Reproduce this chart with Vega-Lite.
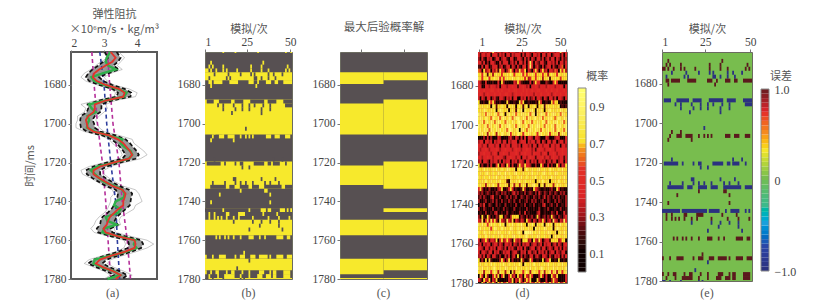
{"$schema":"https://vega.github.io/schema/vega-lite/v6.json","autosize":{"type":"none"},"padding":{"left":71,"top":52,"right":745,"bottom":251},"background":"white",
"resolve":{"scale":{"color":"independent"}},
"config":{"view":{"stroke":"#6b6b60","strokeWidth":1},"axis":{"grid":false,"domain":false,"labelFont":"Liberation Serif","labelFontSize":11.5,"labelColor":"#444","tickColor":"#777","tickSize":3,"titleFont":"Noto Sans CJK SC","titleFontSize":11,"titleFontWeight":"normal","titleColor":"#555"},"text":{"font":"Liberation Serif","fontSize":12,"color":"#555"}},
"datasets":{
"gap":[{"t":0}],
"capA":[{"x":3.26,"t":1787,"s":"(a)"}],"capB":[{"a":26,"t":1787,"s":"(b)"}],"capC":[{"a":26,"t":1787,"s":"(c)"}],"capD":[{"c":25.5,"t":1785,"s":"(d)"}],"capE":[{"a":26,"t":1786,"s":"(e)"}],
"barD":[{"v":0,"w":0.25},{"v":0.25,"w":0.5},{"v":0.5,"w":0.75},{"v":0.75,"w":1},{"v":1,"w":1.25},{"v":1.25,"w":1.5},{"v":1.5,"w":1.75},{"v":1.75,"w":2},{"v":2,"w":2.25},{"v":2.25,"w":2.5},{"v":2.5,"w":2.75},{"v":2.75,"w":3},{"v":3,"w":3.25},{"v":3.25,"w":3.5},{"v":3.5,"w":3.75},{"v":3.75,"w":4},{"v":4,"w":4.25},{"v":4.25,"w":4.5},{"v":4.5,"w":4.75},{"v":4.75,"w":5},{"v":5,"w":5.25},{"v":5.25,"w":5.5},{"v":5.5,"w":5.75},{"v":5.75,"w":6},{"v":6,"w":6.25},{"v":6.25,"w":6.5},{"v":6.5,"w":6.75},{"v":6.75,"w":7},{"v":7,"w":7.25},{"v":7.25,"w":7.5},{"v":7.5,"w":7.75},{"v":7.75,"w":8},{"v":8,"w":8.25},{"v":8.25,"w":8.5},{"v":8.5,"w":8.75},{"v":8.75,"w":9},{"v":9,"w":9.25},{"v":9.25,"w":9.5},{"v":9.5,"w":9.75},{"v":9.75,"w":10}],
"barE":[{"v":-1,"w":-0.95},{"v":-0.95,"w":-0.9},{"v":-0.9,"w":-0.85},{"v":-0.85,"w":-0.8},{"v":-0.8,"w":-0.75},{"v":-0.75,"w":-0.7},{"v":-0.7,"w":-0.65},{"v":-0.65,"w":-0.6},{"v":-0.6,"w":-0.55},{"v":-0.55,"w":-0.5},{"v":-0.5,"w":-0.45},{"v":-0.45,"w":-0.4},{"v":-0.4,"w":-0.35},{"v":-0.35,"w":-0.3},{"v":-0.3,"w":-0.25},{"v":-0.25,"w":-0.2},{"v":-0.2,"w":-0.15},{"v":-0.15,"w":-0.1},{"v":-0.1,"w":-0.05},{"v":-0.05,"w":0},{"v":0,"w":0.05},{"v":0.05,"w":0.1},{"v":0.1,"w":0.15},{"v":0.15,"w":0.2},{"v":0.2,"w":0.25},{"v":0.25,"w":0.3},{"v":0.3,"w":0.35},{"v":0.35,"w":0.4},{"v":0.4,"w":0.45},{"v":0.45,"w":0.5},{"v":0.5,"w":0.55},{"v":0.55,"w":0.6},{"v":0.6,"w":0.65},{"v":0.65,"w":0.7},{"v":0.7,"w":0.75},{"v":0.75,"w":0.8},{"v":0.8,"w":0.85},{"v":0.85,"w":0.9},{"v":0.9,"w":0.95},{"v":0.95,"w":1}],
"frameD":[{"v":0,"w":10}],"frameE":[{"v":-1,"w":1}],
"titleD":[{"x":2.4,"v":10.6,"s":"概率"}],"titleE":[{"x":2.5,"v":1.132,"s":"误差"}],
"bands":[{"a":1,"b":26,"t0":1673.5,"t1":1679.5},{"a":1,"b":26,"t0":1689.5,"t1":1705.5},{"a":1,"b":26,"t0":1721.5,"t1":1731.5},{"a":1,"b":26,"t0":1749.5,"t1":1757.5},{"a":1,"b":26,"t0":1769.5,"t1":1777.5},{"a":1,"b":26,"t0":1779.5,"t1":1780},{"a":26,"b":51,"t0":1673.5,"t1":1677.5},{"a":26,"b":51,"t0":1687.5,"t1":1705.5},{"a":26,"b":51,"t0":1719.5,"t1":1733.5},{"a":26,"b":51,"t0":1743.5,"t1":1745.5},{"a":26,"b":51,"t0":1749.5,"t1":1757.5},{"a":26,"b":51,"t0":1769.5,"t1":1775.5},{"a":26,"b":51,"t0":1779.5,"t1":1780}],
"err":[
{"t":1662.5,"a":11,"b":12,"e":1},{"t":1662.5,"a":18,"b":19,"e":1},{"t":1662.5,"a":31,"b":32,"e":1},{"t":1662.5,"a":47,"b":48,"e":1},{"t":1662.5,"a":50,"b":51,"e":1},
{"t":1668.5,"a":4,"b":5,"e":1},{"t":1668.5,"a":34,"b":35,"e":1},
{"t":1670.5,"a":3,"b":4,"e":1},{"t":1670.5,"a":5,"b":6,"e":1},{"t":1670.5,"a":11,"b":12,"e":1},{"t":1670.5,"a":27,"b":28,"e":1},{"t":1670.5,"a":33,"b":34,"e":1},{"t":1670.5,"a":48,"b":49,"e":1},
{"t":1672.5,"a":1,"b":3,"e":1},{"t":1672.5,"a":4,"b":5,"e":1},{"t":1672.5,"a":7,"b":8,"e":1},{"t":1672.5,"a":11,"b":12,"e":1},{"t":1672.5,"a":13,"b":14,"e":1},{"t":1672.5,"a":19,"b":20,"e":1},{"t":1672.5,"a":27,"b":28,"e":1},{"t":1672.5,"a":33,"b":34,"e":1},{"t":1672.5,"a":37,"b":38,"e":1},{"t":1672.5,"a":47,"b":48,"e":1},{"t":1672.5,"a":49,"b":50,"e":1},
{"t":1674.5,"a":6,"b":7,"e":-1},{"t":1674.5,"a":14,"b":15,"e":-1},{"t":1674.5,"a":21,"b":22,"e":-1},{"t":1674.5,"a":27,"b":28,"e":-1},{"t":1674.5,"a":29,"b":30,"e":-1},{"t":1674.5,"a":37,"b":38,"e":-1},{"t":1674.5,"a":40,"b":41,"e":-1},{"t":1674.5,"a":45,"b":46,"e":-1},
{"t":1676.5,"a":3,"b":4,"e":-1},{"t":1676.5,"a":13,"b":14,"e":-1},{"t":1676.5,"a":15,"b":16,"e":-1},{"t":1676.5,"a":29,"b":31,"e":-1},{"t":1676.5,"a":33,"b":34,"e":-1},{"t":1676.5,"a":37,"b":38,"e":-1},{"t":1676.5,"a":41,"b":42,"e":-1},
{"t":1678.5,"a":3,"b":5,"e":1},{"t":1678.5,"a":6,"b":11,"e":1},{"t":1678.5,"a":15,"b":20,"e":1},{"t":1678.5,"a":26,"b":29,"e":1},{"t":1678.5,"a":31,"b":32,"e":1},{"t":1678.5,"a":36,"b":39,"e":1},{"t":1678.5,"a":41,"b":43,"e":1},{"t":1678.5,"a":46,"b":51,"e":1},
{"t":1680.5,"a":4,"b":5,"e":1},{"t":1680.5,"a":30,"b":31,"e":1},
{"t":1688.5,"a":2,"b":6,"e":-1},{"t":1688.5,"a":9,"b":16,"e":-1},{"t":1688.5,"a":18,"b":23,"e":-1},{"t":1688.5,"a":27,"b":35,"e":-1},{"t":1688.5,"a":37,"b":42,"e":-1},{"t":1688.5,"a":46,"b":51,"e":-1},
{"t":1690.5,"a":8,"b":9,"e":-1},{"t":1690.5,"a":11,"b":12,"e":-1},{"t":1690.5,"a":17,"b":18,"e":-1},{"t":1690.5,"a":22,"b":23,"e":-1},{"t":1690.5,"a":26,"b":27,"e":-1},{"t":1690.5,"a":29,"b":30,"e":-1},{"t":1690.5,"a":34,"b":35,"e":-1},{"t":1690.5,"a":38,"b":39,"e":-1},{"t":1690.5,"a":47,"b":51,"e":-1},
{"t":1692.5,"a":11,"b":12,"e":-1},{"t":1692.5,"a":18,"b":19,"e":-1},{"t":1692.5,"a":22,"b":23,"e":-1},{"t":1692.5,"a":26,"b":27,"e":-1},{"t":1692.5,"a":33,"b":34,"e":-1},{"t":1692.5,"a":38,"b":39,"e":-1},
{"t":1694.5,"a":16,"b":17,"e":-1},{"t":1694.5,"a":33,"b":34,"e":-1},{"t":1702.5,"a":24,"b":25,"e":-1},
{"t":1704.5,"a":6,"b":7,"e":1},{"t":1704.5,"a":11,"b":12,"e":1},
{"t":1706.5,"a":5,"b":6,"e":1},{"t":1706.5,"a":9,"b":12,"e":1},{"t":1706.5,"a":14,"b":18,"e":1},{"t":1706.5,"a":21,"b":22,"e":1},{"t":1706.5,"a":24,"b":25,"e":1},{"t":1706.5,"a":26,"b":27,"e":1},{"t":1706.5,"a":28,"b":29,"e":1},{"t":1706.5,"a":36,"b":39,"e":1},{"t":1706.5,"a":41,"b":44,"e":1},{"t":1706.5,"a":47,"b":50,"e":1},
{"t":1708.5,"a":4,"b":5,"e":1},{"t":1708.5,"a":17,"b":18,"e":1},
{"t":1718.5,"a":6,"b":7,"e":-1},{"t":1718.5,"a":40,"b":41,"e":-1},{"t":1718.5,"a":45,"b":46,"e":-1},
{"t":1720.5,"a":2,"b":10,"e":-1},{"t":1720.5,"a":12,"b":13,"e":-1},{"t":1720.5,"a":18,"b":19,"e":-1},{"t":1720.5,"a":21,"b":23,"e":-1},{"t":1720.5,"a":29,"b":35,"e":-1},{"t":1720.5,"a":37,"b":39,"e":-1},{"t":1720.5,"a":40,"b":44,"e":-1},{"t":1720.5,"a":47,"b":48,"e":-1},
{"t":1722.5,"a":22,"b":23,"e":-1},{"t":1722.5,"a":26,"b":27,"e":-1},
{"t":1728.5,"a":17,"b":19,"e":-1},{"t":1728.5,"a":33,"b":34,"e":-1},{"t":1728.5,"a":41,"b":42,"e":-1},
{"t":1730.5,"a":5,"b":6,"e":-1},{"t":1730.5,"a":12,"b":13,"e":-1},{"t":1730.5,"a":18,"b":19,"e":-1},{"t":1730.5,"a":21,"b":22,"e":-1},{"t":1730.5,"a":24,"b":25,"e":-1},{"t":1730.5,"a":28,"b":29,"e":-1},{"t":1730.5,"a":35,"b":36,"e":-1},{"t":1730.5,"a":38,"b":39,"e":-1},{"t":1730.5,"a":43,"b":44,"e":-1},
{"t":1732.5,"a":4,"b":13,"e":-1},{"t":1732.5,"a":15,"b":18,"e":-1},{"t":1732.5,"a":21,"b":26,"e":-1},{"t":1732.5,"a":28,"b":32,"e":-1},{"t":1732.5,"a":35,"b":45,"e":-1},{"t":1732.5,"a":47,"b":51,"e":-1},
{"t":1734.5,"a":21,"b":22,"e":1},{"t":1734.5,"a":35,"b":37,"e":1},{"t":1736.5,"a":9,"b":10,"e":1},{"t":1736.5,"a":38,"b":39,"e":1},{"t":1740.5,"a":4,"b":5,"e":1},{"t":1740.5,"a":38,"b":39,"e":1},
{"t":1744.5,"a":1,"b":11,"e":-1},{"t":1744.5,"a":12,"b":26,"e":-1},{"t":1744.5,"a":27,"b":33,"e":-1},{"t":1744.5,"a":36,"b":37,"e":-1},{"t":1744.5,"a":39,"b":44,"e":-1},{"t":1744.5,"a":47,"b":48,"e":-1},{"t":1744.5,"a":49,"b":50,"e":-1},
{"t":1746.5,"a":3,"b":4,"e":1},{"t":1746.5,"a":6,"b":7,"e":1},{"t":1746.5,"a":13,"b":15,"e":1},{"t":1746.5,"a":20,"b":24,"e":1},{"t":1746.5,"a":34,"b":35,"e":1},{"t":1746.5,"a":42,"b":43,"e":1},
{"t":1748.5,"a":3,"b":4,"e":1},{"t":1748.5,"a":6,"b":7,"e":1},{"t":1748.5,"a":8,"b":9,"e":1},{"t":1748.5,"a":10,"b":11,"e":1},{"t":1748.5,"a":13,"b":14,"e":1},{"t":1748.5,"a":17,"b":18,"e":1},{"t":1748.5,"a":20,"b":21,"e":1},{"t":1748.5,"a":28,"b":29,"e":1},{"t":1748.5,"a":37,"b":38,"e":1},{"t":1748.5,"a":43,"b":44,"e":1},{"t":1748.5,"a":49,"b":50,"e":1},
{"t":1750.5,"a":17,"b":18,"e":-1},{"t":1750.5,"a":28,"b":29,"e":-1},{"t":1750.5,"a":33,"b":34,"e":-1},{"t":1750.5,"a":38,"b":39,"e":-1},{"t":1750.5,"a":43,"b":44,"e":-1},
{"t":1752.5,"a":32,"b":33,"e":-1},{"t":1752.5,"a":43,"b":44,"e":-1},{"t":1754.5,"a":26,"b":27,"e":-1},{"t":1754.5,"a":45,"b":46,"e":-1},
{"t":1758.5,"a":7,"b":8,"e":1},{"t":1758.5,"a":9,"b":10,"e":1},{"t":1758.5,"a":12,"b":13,"e":1},{"t":1758.5,"a":14,"b":15,"e":1},{"t":1758.5,"a":17,"b":18,"e":1},{"t":1758.5,"a":21,"b":22,"e":1},{"t":1758.5,"a":26,"b":29,"e":1},{"t":1758.5,"a":32,"b":33,"e":1},{"t":1758.5,"a":35,"b":36,"e":1},{"t":1758.5,"a":42,"b":46,"e":1},{"t":1758.5,"a":48,"b":50,"e":1},
{"t":1766.5,"a":23,"b":24,"e":1},
{"t":1768.5,"a":1,"b":2,"e":1},{"t":1768.5,"a":5,"b":6,"e":1},{"t":1768.5,"a":9,"b":13,"e":1},{"t":1768.5,"a":18,"b":19,"e":1},{"t":1768.5,"a":21,"b":24,"e":1},{"t":1768.5,"a":27,"b":30,"e":1},{"t":1768.5,"a":32,"b":37,"e":1},{"t":1768.5,"a":38,"b":39,"e":1},{"t":1768.5,"a":42,"b":46,"e":1},{"t":1768.5,"a":48,"b":51,"e":1},
{"t":1770.5,"a":26,"b":27,"e":-1},{"t":1774.5,"a":19,"b":20,"e":-1},
{"t":1776.5,"a":1,"b":2,"e":1},{"t":1776.5,"a":4,"b":5,"e":1},{"t":1776.5,"a":7,"b":9,"e":1},{"t":1776.5,"a":13,"b":14,"e":1},{"t":1776.5,"a":16,"b":18,"e":1},{"t":1776.5,"a":22,"b":23,"e":1},{"t":1776.5,"a":26,"b":27,"e":1},{"t":1776.5,"a":32,"b":35,"e":1},{"t":1776.5,"a":38,"b":39,"e":1},{"t":1776.5,"a":40,"b":42,"e":1},{"t":1776.5,"a":46,"b":50,"e":1},
{"t":1778.5,"a":3,"b":4,"e":1},{"t":1778.5,"a":8,"b":9,"e":1},{"t":1778.5,"a":12,"b":18,"e":1},{"t":1778.5,"a":21,"b":22,"e":1},{"t":1778.5,"a":26,"b":27,"e":1},{"t":1778.5,"a":31,"b":34,"e":1},{"t":1778.5,"a":36,"b":39,"e":1},{"t":1778.5,"a":40,"b":42,"e":1},{"t":1778.5,"a":46,"b":50,"e":1},
{"t":1780.5,"a":1,"b":3,"e":-1},{"t":1780.5,"a":5,"b":6,"e":-1},{"t":1780.5,"a":11,"b":12,"e":-1},{"t":1780.5,"a":21,"b":22,"e":-1},{"t":1780.5,"a":23,"b":24,"e":-1}
],
"well":[
{"t":1663,"r":3.2,"g":3.18,"l":3.02,"h":3.38,"s1":2.95,"s2":3.45,"s3":3.2},
{"t":1666,"r":3.35,"g":3.08,"l":3.12,"h":3.5,"s1":3.15,"s2":3.62,"s3":3.05},
{"t":1668,"r":3.25,"g":3.05,"l":2.98,"h":3.42,"s1":2.9,"s2":3.5,"s3":3.3},
{"t":1670,"r":3.05,"g":3.12,"l":2.82,"h":3.28,"s1":2.75,"s2":3.4,"s3":2.95},
{"t":1672,"r":2.85,"g":3.35,"l":2.65,"h":3.45,"s1":2.6,"s2":3.55,"s3":3.1},
{"t":1674,"r":2.7,"g":2.95,"l":2.52,"h":3.12,"s1":2.4,"s2":3.2,"s3":2.7},
{"t":1676,"r":2.66,"g":2.62,"l":2.45,"h":2.85,"s1":2.3,"s2":3.0,"s3":2.55},
{"t":1678,"r":2.78,"g":2.7,"l":2.55,"h":2.98,"s1":2.45,"s2":3.1,"s3":2.8},
{"t":1680,"r":3.05,"g":3.0,"l":2.85,"h":3.25,"s1":2.8,"s2":3.3,"s3":3.1},
{"t":1682,"r":3.45,"g":3.42,"l":3.25,"h":3.62,"s1":3.2,"s2":3.75,"s3":3.4},
{"t":1684,"r":3.62,"g":3.68,"l":3.42,"h":3.82,"s1":3.35,"s2":4.0,"s3":3.7},
{"t":1686,"r":3.58,"g":3.6,"l":3.38,"h":3.8,"s1":3.3,"s2":3.95,"s3":3.5},
{"t":1688,"r":3.05,"g":3.05,"l":2.85,"h":3.25,"s1":2.75,"s2":3.35,"s3":3.1},
{"t":1690,"r":2.72,"g":2.55,"l":2.5,"h":2.92,"s1":2.3,"s2":3.05,"s3":2.6},
{"t":1692,"r":2.72,"g":2.62,"l":2.52,"h":2.92,"s1":2.45,"s2":3.1,"s3":2.8},
{"t":1694,"r":2.68,"g":2.75,"l":2.48,"h":2.88,"s1":2.4,"s2":3.0,"s3":2.6},
{"t":1696,"r":2.52,"g":2.5,"l":2.3,"h":2.72,"s1":2.2,"s2":2.85,"s3":2.45},
{"t":1698,"r":2.45,"g":2.55,"l":2.28,"h":2.65,"s1":2.2,"s2":2.75,"s3":2.55},
{"t":1700,"r":2.48,"g":2.5,"l":2.28,"h":2.7,"s1":2.15,"s2":2.8,"s3":2.4},
{"t":1702,"r":2.5,"g":2.48,"l":2.3,"h":2.72,"s1":2.15,"s2":2.85,"s3":2.6},
{"t":1704,"r":2.68,"g":2.72,"l":2.48,"h":2.88,"s1":2.4,"s2":3.0,"s3":2.7},
{"t":1706,"r":3.15,"g":3.12,"l":2.95,"h":3.35,"s1":2.9,"s2":3.45,"s3":3.2},
{"t":1708,"r":3.42,"g":3.55,"l":3.22,"h":3.65,"s1":3.15,"s2":3.85,"s3":3.4},
{"t":1710,"r":3.58,"g":3.5,"l":3.38,"h":3.78,"s1":3.25,"s2":3.9,"s3":3.6},
{"t":1712,"r":3.68,"g":3.62,"l":3.48,"h":3.88,"s1":3.4,"s2":4.05,"s3":3.6},
{"t":1714,"r":3.78,"g":3.8,"l":3.58,"h":3.98,"s1":3.5,"s2":4.2,"s3":3.85},
{"t":1716,"r":3.85,"g":3.85,"l":3.65,"h":4.05,"s1":3.55,"s2":4.3,"s3":3.8},
{"t":1718,"r":3.75,"g":3.75,"l":3.55,"h":3.95,"s1":3.45,"s2":4.1,"s3":3.7},
{"t":1720,"r":3.28,"g":3.3,"l":3.08,"h":3.48,"s1":3.0,"s2":3.6,"s3":3.3},
{"t":1722,"r":2.88,"g":2.8,"l":2.68,"h":3.08,"s1":2.55,"s2":3.2,"s3":2.9},
{"t":1724,"r":2.68,"g":2.6,"l":2.45,"h":2.88,"s1":2.3,"s2":3.0,"s3":2.55},
{"t":1726,"r":2.68,"g":2.72,"l":2.48,"h":2.88,"s1":2.35,"s2":3.0,"s3":2.75},
{"t":1728,"r":2.85,"g":2.85,"l":2.65,"h":3.05,"s1":2.6,"s2":3.15,"s3":2.9},
{"t":1730,"r":3.05,"g":3.0,"l":2.85,"h":3.25,"s1":2.8,"s2":3.35,"s3":3.0},
{"t":1732,"r":3.25,"g":3.3,"l":3.05,"h":3.45,"s1":3.0,"s2":3.55,"s3":3.3},
{"t":1734,"r":3.55,"g":3.55,"l":3.35,"h":3.75,"s1":3.25,"s2":3.95,"s3":3.5},
{"t":1736,"r":3.65,"g":3.62,"l":3.42,"h":3.85,"s1":3.3,"s2":4.05,"s3":3.75},
{"t":1738,"r":3.62,"g":3.6,"l":3.4,"h":3.82,"s1":3.2,"s2":4.1,"s3":3.5},
{"t":1740,"r":3.58,"g":3.35,"l":3.35,"h":3.8,"s1":3.2,"s2":4.15,"s3":3.7},
{"t":1742,"r":3.58,"g":3.3,"l":3.3,"h":3.78,"s1":3.15,"s2":3.95,"s3":3.5},
{"t":1744,"r":3.42,"g":3.5,"l":3.22,"h":3.65,"s1":3.1,"s2":3.9,"s3":3.45},
{"t":1746,"r":3.3,"g":3.42,"l":3.1,"h":3.52,"s1":3.0,"s2":3.7,"s3":3.3},
{"t":1748,"r":3.18,"g":3.05,"l":2.95,"h":3.38,"s1":2.85,"s2":3.5,"s3":3.1},
{"t":1750,"r":3.12,"g":3.1,"l":2.9,"h":3.32,"s1":2.75,"s2":3.45,"s3":3.15},
{"t":1752,"r":3.08,"g":3.38,"l":2.88,"h":3.42,"s1":2.7,"s2":3.5,"s3":3.0},
{"t":1754,"r":2.98,"g":3.0,"l":2.78,"h":3.2,"s1":2.6,"s2":3.3,"s3":3.0},
{"t":1756,"r":3.05,"g":2.95,"l":2.82,"h":3.25,"s1":2.7,"s2":3.35,"s3":3.05},
{"t":1758,"r":3.42,"g":3.45,"l":3.22,"h":3.65,"s1":3.15,"s2":3.8,"s3":3.5},
{"t":1760,"r":3.92,"g":3.95,"l":3.72,"h":4.12,"s1":3.6,"s2":4.3,"s3":3.9},
{"t":1762,"r":3.95,"g":3.9,"l":3.75,"h":4.18,"s1":3.65,"s2":4.5,"s3":4.0},
{"t":1764,"r":3.92,"g":3.98,"l":3.72,"h":4.12,"s1":3.6,"s2":4.3,"s3":3.85},
{"t":1766,"r":3.62,"g":3.65,"l":3.42,"h":3.82,"s1":3.35,"s2":3.95,"s3":3.6},
{"t":1768,"r":3.22,"g":3.2,"l":3.02,"h":3.42,"s1":2.95,"s2":3.55,"s3":3.25},
{"t":1770,"r":2.88,"g":2.72,"l":2.68,"h":3.08,"s1":2.55,"s2":3.2,"s3":2.8},
{"t":1772,"r":2.75,"g":2.68,"l":2.52,"h":2.95,"s1":2.4,"s2":3.1,"s3":2.65},
{"t":1774,"r":2.98,"g":2.95,"l":2.78,"h":3.18,"s1":2.7,"s2":3.3,"s3":3.0},
{"t":1776,"r":3.28,"g":3.3,"l":3.08,"h":3.48,"s1":3.0,"s2":3.6,"s3":3.25},
{"t":1778,"r":3.5,"g":3.48,"l":3.3,"h":3.7,"s1":3.2,"s2":3.85,"s3":3.55},
{"t":1780,"r":3.35,"g":3.1,"l":3.1,"h":3.55,"s1":3.0,"s2":3.7,"s3":3.3}
],
"trend":[
{"t":1663,"v":2.63,"k":"m1"},{"t":1680,"v":2.7,"k":"m1"},{"t":1700,"v":2.8,"k":"m1"},{"t":1720,"v":2.95,"k":"m1"},{"t":1740,"v":3.05,"k":"m1"},{"t":1760,"v":3.12,"k":"m1"},{"t":1780,"v":3.2,"k":"m1"},
{"t":1663,"v":2.87,"k":"b"},{"t":1680,"v":3.0,"k":"b"},{"t":1700,"v":3.08,"k":"b"},{"t":1720,"v":3.2,"k":"b"},{"t":1740,"v":3.35,"k":"b"},{"t":1760,"v":3.4,"k":"b"},{"t":1780,"v":3.47,"k":"b"},
{"t":1663,"v":3.1,"k":"m2"},{"t":1680,"v":3.17,"k":"m2"},{"t":1700,"v":3.27,"k":"m2"},{"t":1720,"v":3.45,"k":"m2"},{"t":1740,"v":3.55,"k":"m2"},{"t":1760,"v":3.7,"k":"m2"},{"t":1780,"v":3.8,"k":"m2"}
],
"prob":[
{"t":1662.5,"p":[4,4,3,4,4,3,4,4,8,4,3,4,4,3,4,4,4,3,4,4,4,3,3,4,4,4,3,4,4,3,4,4,3,4,4,4,3,4,4,3,4,4,4,3,4,4,8,4,3,4]},
{"t":1664.5,"p":[4,2,4,4,3,4,4,1,4,4,4,2,4,3,4,1,4,4,2,4,3,4,4,4,1,4,2,4,4,3,1,4,4,3,4,1,4,4,2,4,4,1,3,4,4,4,2,4,1,4]},
{"t":1666.5,"p":[3,1,4,2,1,4,3,4,1,2,4,4,1,3,4,4,2,1,4,4,1,2,4,4,3,1,4,2,4,1,4,3,1,4,4,2,4,1,3,4,2,4,4,1,4,3,1,4,2,3]},
{"t":1668.5,"p":[4,4,2,4,1,3,1,4,4,3,1,1,4,2,4,4,4,1,3,4,2,4,1,4,4,2,4,1,4,8,4,1,4,3,2,4,4,2,1,4,4,3,4,2,4,1,4,4,2,4]},
{"t":1670.5,"p":[2,1,4,1,5,4,1,2,4,4,5,1,3,4,1,2,4,4,1,4,3,1,4,2,1,4,5,1,4,9,4,1,3,5,2,1,4,1,3,4,5,1,4,2,1,3,4,6,1,4]},
{"t":1672.5,"p":[6,4,1,7,3,4,6,1,4,3,6,2,7,4,4,1,3,6,7,4,1,4,3,7,4,4,7,1,4,3,1,4,7,4,1,4,7,3,4,1,4,4,3,6,4,1,7,4,7,3]},
{"t":1674.5,"p":[7,7,4,8,7,2,7,7,3,7,8,7,7,4,7,7,8,7,9,7,4,7,7,7,8,4,7,5,7,7,8,7,4,7,7,7,4,7,7,3,7,8,7,7,4,8,7,7,8,7]},
{"t":1676.5,"p":[8,7,4,7,7,8,4,7,7,8,7,8,4,7,4,7,8,7,7,9,7,7,8,7,7,7,4,7,3,4,7,7,4,7,8,7,3,7,7,8,2,7,7,8,7,7,4,7,7,7]},
{"t":1678.5,"p":[4,3,1,1,4,1,0,1,2,1,0,4,1,7,3,1,1,0,1,1,4,3,7,4,2,1,1,0,1,4,1,3,7,4,4,1,0,1,3,2,1,1,4,7,4,1,0,1,1,0]},
{"t":1680.5,"p":[4,4,1,1,4,4,3,5,4,4,3,4,1,4,5,4,3,4,4,5,4,4,2,4,4,5,4,3,4,0,4,4,5,4,3,4,4,4,3,5,4,4,4,3,4,4,5,4,1,4]},
{"t":1682.5,"p":[5,4,4,5,4,4,4,5,5,4,4,5,4,5,4,4,4,5,4,4,5,5,4,4,4,5,4,5,4,4,5,4,4,5,5,4,4,4,5,4,4,5,4,4,5,4,4,4,5,4]},
{"t":1684.5,"p":[4,5,4,3,4,5,4,4,4,5,4,4,5,4,4,5,5,4,4,3,4,5,4,4,5,4,4,5,4,4,4,3,5,4,4,5,4,4,4,5,4,3,4,5,4,4,5,4,4,5]},
{"t":1686.5,"p":[4,1,4,3,1,4,4,1,3,4,2,1,4,4,3,1,4,3,4,1,4,4,1,0,4,3,4,1,4,2,3,4,1,4,4,3,1,4,3,1,4,4,2,4,1,4,4,3,1,4]},
{"t":1688.5,"p":[7,1,1,2,1,1,7,4,7,3,1,1,2,1,1,1,7,2,1,1,2,1,1,7,4,7,1,1,2,1,1,1,2,1,7,4,1,1,2,1,1,7,4,7,7,1,2,1,1,1]},
{"t":1690.5,"p":[8,7,8,7,7,8,7,1,8,7,2,7,7,8,7,7,1,8,7,8,7,1,7,8,7,2,7,8,1,7,7,8,7,1,7,7,8,2,7,8,7,7,8,7,7,8,1,2,1,2]},
{"t":1692.5,"p":[7,8,7,9,8,7,7,8,7,8,1,7,9,8,7,7,8,1,7,8,7,2,8,7,9,1,8,7,7,8,9,7,1,8,7,8,7,1,7,8,9,7,8,7,8,7,9,8,7,8]},
{"t":1694.5,"p":[9,8,7,8,6,9,8,8,7,9,8,6,8,9,7,1,8,9,7,8,9,6,8,7,9,8,8,7,9,6,8,9,1,8,7,9,8,8,6,9,7,8,9,8,7,8,6,9,8,7]},
{"t":1696.5,"p":[8,9,8,7,9,8,7,6,9,8,7,9,6,8,9,8,7,9,8,6,8,9,10,8,7,9,8,6,9,8,7,8,9,7,8,9,6,8,7,9,8,9,7,6,8,9,8,7,9,8]},
{"t":1698.5,"p":[7,8,9,6,8,9,7,9,8,6,8,10,9,7,8,6,9,8,7,9,8,7,9,10,8,6,9,7,8,9,6,8,7,9,8,7,9,8,6,9,8,7,9,8,10,7,8,9,6,8]},
{"t":1700.5,"p":[9,8,7,8,9,6,8,9,7,8,9,8,6,9,7,8,9,10,8,7,9,6,8,9,8,7,8,9,6,8,9,7,8,10,9,7,8,6,9,8,7,9,8,6,9,8,9,7,8,9]},
{"t":1702.5,"p":[8,9,7,9,8,8,6,9,8,7,9,8,9,7,8,8,6,9,9,8,7,8,9,1,8,9,7,6,8,9,8,7,9,8,8,6,9,7,8,9,7,8,9,6,8,9,7,8,6,9]},
{"t":1704.5,"p":[7,8,9,7,8,3,8,7,9,7,3,8,7,9,8,7,8,9,4,7,8,7,9,8,7,4,8,7,9,8,7,8,7,4,8,9,7,8,7,9,4,7,8,7,8,3,7,9,8,7]},
{"t":1706.5,"p":[1,0,1,3,0,4,1,3,0,1,1,4,3,0,1,1,0,3,4,2,0,4,3,0,4,1,4,0,4,4,3,1,4,4,3,0,1,0,4,3,0,1,1,3,4,4,1,0,1,4]},
{"t":1708.5,"p":[3,4,4,1,4,4,3,4,1,4,3,4,4,2,4,4,1,4,3,4,4,4,1,3,4,4,4,1,4,3,4,4,2,4,4,1,4,3,1,4,4,2,4,4,1,3,4,4,2,4]},
{"t":1710.5,"p":[4,4,3,4,4,2,4,4,4,3,4,4,1,4,4,3,4,4,2,4,4,4,3,4,1,4,4,4,3,4,2,4,4,1,4,4,3,4,4,4,2,4,4,3,4,4,1,4,4,3]},
{"t":1712.5,"p":[4,3,4,4,5,4,3,4,4,4,5,4,3,4,4,5,4,4,4,3,4,5,4,4,3,4,4,5,4,4,3,4,2,4,5,4,4,3,4,4,5,4,4,3,4,4,4,5,4,4]},
{"t":1714.5,"p":[3,4,4,5,4,4,4,3,4,5,4,2,4,4,5,4,4,3,4,4,4,5,4,3,4,4,5,4,4,4,3,5,4,4,4,3,4,5,4,2,4,4,5,4,3,4,4,5,4,4]},
{"t":1716.5,"p":[4,4,3,4,4,5,4,4,3,4,4,5,4,4,3,2,4,4,5,4,4,3,4,4,1,4,4,3,4,5,4,4,2,4,4,4,5,3,4,4,3,4,5,4,4,3,4,4,2,4]},
{"t":1718.5,"p":[3,4,1,4,4,3,1,4,3,4,4,2,4,1,4,3,4,4,1,4,3,4,2,4,4,3,1,4,4,2,4,3,4,1,4,4,3,4,1,3,4,2,4,4,1,3,4,4,1,4]},
{"t":1720.5,"p":[7,1,3,1,1,3,1,4,1,1,4,7,1,4,3,1,7,4,1,4,1,1,3,7,4,3,7,4,4,3,1,1,3,1,1,7,4,1,1,4,1,3,1,1,7,4,1,4,3,7]},
{"t":1722.5,"p":[8,7,7,9,7,8,7,7,8,7,9,7,7,8,7,7,9,8,7,7,8,1,7,8,7,2,7,9,7,7,8,7,7,8,9,7,7,8,7,7,9,7,8,7,7,8,7,9,7,7]},
{"t":1724.5,"p":[7,8,7,7,8,9,7,7,8,7,7,9,8,7,7,10,7,8,7,7,8,9,7,7,7,8,7,7,8,7,9,7,7,8,7,7,8,9,7,7,8,7,7,9,8,7,7,8,7,7]},
{"t":1726.5,"p":[8,7,7,8,7,7,9,7,8,7,10,7,7,8,7,9,7,7,8,7,7,7,8,7,9,7,7,8,7,7,8,7,9,7,7,8,7,7,8,7,7,9,7,8,7,7,8,7,9,7]},
{"t":1728.5,"p":[7,7,8,7,9,7,7,8,7,7,8,7,9,7,7,7,2,1,8,7,7,8,7,9,7,7,8,7,7,8,7,7,1,7,8,7,9,7,7,8,1,7,7,8,7,9,7,7,8,7]},
{"t":1730.5,"p":[7,8,7,7,3,7,8,7,9,7,7,3,8,7,7,8,7,2,7,8,3,7,7,3,7,8,7,2,7,7,8,9,7,7,1,7,8,2,7,8,7,7,3,7,9,7,8,7,7,8]},
{"t":1732.5,"p":[4,7,3,1,2,1,3,1,1,2,1,3,4,7,1,1,2,4,7,4,1,2,1,1,2,7,3,1,1,2,1,7,4,3,2,1,1,2,1,1,2,3,1,1,7,4,1,2,1,1]},
{"t":1734.5,"p":[3,2,3,1,2,3,2,1,2,0,3,2,1,3,2,3,0,2,1,3,4,2,3,1,2,0,3,1,2,3,2,1,3,0,4,2,1,3,2,0,3,2,1,3,2,1,3,2,3,1]},
{"t":1736.5,"p":[2,3,1,3,2,0,1,3,5,1,2,0,3,1,0,2,3,1,3,0,2,3,1,0,3,2,1,3,2,0,1,3,2,1,3,0,2,4,1,3,2,0,3,1,2,3,0,2,1,3]},
{"t":1738.5,"p":[3,1,0,2,3,1,0,2,3,1,3,0,1,3,0,2,1,3,2,0,3,1,0,3,1,0,2,3,1,0,3,2,3,1,0,2,3,1,0,3,2,1,0,3,1,3,2,0,1,3]},
{"t":1740.5,"p":[1,3,2,5,1,0,3,2,0,1,3,0,2,1,0,3,1,0,2,0,1,3,0,1,2,0,3,1,0,2,1,3,0,0,2,1,3,5,1,0,2,3,0,1,3,0,1,2,0,3]},
{"t":1742.5,"p":[3,0,1,3,2,0,1,0,3,1,0,2,0,1,3,0,2,0,1,0,3,0,1,2,0,0,1,3,0,1,0,2,0,1,3,0,1,2,0,3,1,0,0,2,1,0,3,0,1,2]},
{"t":1744.5,"p":[1,2,0,1,3,1,0,2,1,3,4,0,1,2,1,0,3,1,0,2,1,0,1,3,1,0,4,1,2,0,1,0,1,3,4,1,0,2,1,0,1,3,2,0,4,1,0,1,4,2]},
{"t":1746.5,"p":[3,1,7,2,1,7,3,1,2,1,3,2,7,7,1,3,2,1,3,7,7,7,7,1,3,2,1,3,1,2,3,1,2,7,3,1,2,3,1,3,2,7,3,2,1,3,2,1,3,4]},
{"t":1748.5,"p":[4,3,8,1,4,7,3,8,4,7,3,1,8,4,3,2,8,4,3,7,1,4,3,2,4,3,1,7,4,3,1,4,3,1,4,3,7,4,1,3,4,2,8,4,3,1,4,3,8,4]},
{"t":1750.5,"p":[8,7,9,7,8,4,7,9,7,8,7,7,10,7,8,1,7,8,7,9,7,7,8,7,10,7,7,1,8,7,9,7,1,8,7,7,8,1,7,9,7,8,1,7,8,7,9,7,7,8]},
{"t":1752.5,"p":[7,9,7,8,7,7,8,5,7,9,8,7,7,9,7,8,7,7,9,8,7,7,8,7,9,8,7,7,8,7,7,1,9,7,8,7,7,9,8,7,7,8,1,7,9,8,7,7,8,7]},
{"t":1754.5,"p":[8,7,7,9,8,7,9,7,7,8,7,9,8,7,7,8,7,9,7,8,7,7,8,9,7,1,10,10,10,10,9,7,8,7,9,7,7,8,7,9,8,7,7,8,1,7,8,7,9,7]},
{"t":1756.5,"p":[7,8,7,7,9,7,8,7,8,7,7,8,7,9,7,7,8,7,7,8,9,7,7,8,7,7,8,9,7,7,8,7,7,9,8,7,7,8,7,7,8,1,7,9,7,8,7,7,8,7]},
{"t":1758.5,"p":[4,1,3,4,7,4,2,4,4,3,7,1,4,7,3,4,7,4,3,1,7,4,3,4,1,7,7,7,3,4,1,7,4,3,7,4,1,3,4,4,2,7,7,7,7,3,4,7,7,1]},
{"t":1760.5,"p":[3,4,1,4,3,4,4,1,3,4,4,2,4,3,1,4,4,3,4,1,4,3,2,4,1,4,3,4,4,1,3,4,4,2,3,4,1,4,3,4,4,1,3,4,2,4,3,1,4,4]},
{"t":1762.5,"p":[4,4,3,1,4,4,2,4,3,4,1,4,4,3,2,4,1,4,3,4,2,1,4,3,4,1,4,2,1,3,4,4,1,3,4,2,4,4,1,3,4,3,1,4,4,2,4,1,4,3]},
{"t":1764.5,"p":[4,1,4,4,3,2,4,4,1,4,3,4,1,2,4,3,4,4,1,3,4,4,2,1,4,3,4,1,4,4,2,3,4,1,4,3,4,2,4,1,3,4,4,1,4,3,2,4,4,1]},
{"t":1766.5,"p":[3,4,2,4,1,4,3,1,4,4,2,1,3,0,1,4,2,4,1,3,4,1,7,0,4,1,3,2,1,4,4,1,3,4,2,1,4,4,3,1,4,2,1,4,3,4,1,4,2,4]},
{"t":1768.5,"p":[7,1,3,1,7,1,7,2,1,1,1,1,3,7,4,1,3,7,1,3,1,1,2,1,7,3,1,1,2,7,4,1,1,2,1,1,7,1,3,4,7,1,1,2,1,7,1,1,2,1]},
{"t":1770.5,"p":[7,8,7,7,8,7,7,9,7,8,7,7,8,7,9,7,7,8,7,7,8,7,7,9,7,1,8,7,7,8,7,9,7,7,8,7,7,8,7,9,7,7,8,7,7,8,7,9,7,7]},
{"t":1772.5,"p":[8,7,9,7,7,8,7,7,8,9,7,7,8,7,7,9,8,7,7,8,7,9,7,7,8,7,7,8,7,9,7,7,8,7,7,9,8,7,7,8,7,7,9,7,8,7,7,8,7,9]},
{"t":1774.5,"p":[7,7,8,3,7,7,8,4,7,9,7,3,8,7,7,3,7,8,1,7,3,7,7,8,7,4,7,9,7,3,7,8,7,7,4,7,8,3,7,7,9,4,7,8,3,7,7,4,7,8]},
{"t":1776.5,"p":[1,7,4,1,7,3,1,1,4,7,3,7,1,4,7,1,1,4,7,3,4,1,7,3,4,1,7,4,3,7,4,1,1,1,3,7,4,1,4,1,1,7,4,3,7,1,1,1,1,4]},
{"t":1778.5,"p":[4,3,1,7,4,3,7,0,4,3,7,0,1,1,0,1,1,4,3,7,1,4,3,7,4,1,3,7,4,7,1,0,1,7,3,1,0,1,4,1,1,3,7,4,3,0,1,1,0,4]},
{"t":1780.5,"p":[1,1,7,4,1,7,4,3,7,4,1,7,4,7,3,4,7,3,4,7,1,4,1,7,3,4,7,4,3,7,4,3,7,4,7,3,4,7,4,3,7,4,7,3,4,7,3,4,7,3]}
]},
"hconcat":[
{"width":86,"height":227,"view":{"stroke":"#5a5a5a","strokeWidth":2},"layer":[
{"data":{"name":"well"},"mark":{"type":"area","orient":"horizontal","fill":"#777","opacity":0.75,"clip":true},"encoding":{"y":{"field":"t","type":"quantitative","scale":{"domain":[1663,1780],"reverse":true,"nice":false,"zero":false},"axis":{"values":[1680,1700,1720,1740,1760,1780],"title":"时间/ms","titlePadding":8,"format":"d"}},"x":{"field":"l","type":"quantitative","scale":{"domain":[2,4.6],"nice":false,"zero":false},"axis":{"orient":"top","values":[2,3,4],"tickSize":2,"labelPadding":2,"title":["弹性阻抗","×10⁶m/s·kg/m³"],"titlePadding":3,"titleLineHeight":15}},"x2":{"field":"h"}}},
{"data":{"name":"well"},"transform":[{"fold":["s1","s2","s3"],"as":["k","v"]}],"mark":{"type":"line","stroke":"#888","strokeWidth":0.6,"opacity":0.8,"clip":true},"encoding":{"x":{"field":"v","type":"quantitative"},"y":{"field":"t","type":"quantitative"},"detail":{"field":"k"},"order":{"field":"t"}}},
{"data":{"name":"trend"},"transform":[{"filter":"datum.k!='b'"}],"mark":{"type":"line","stroke":"#b5309a","strokeWidth":1.6,"strokeDash":[4,3]},"encoding":{"x":{"field":"v","type":"quantitative"},"y":{"field":"t","type":"quantitative"},"detail":{"field":"k"},"order":{"field":"t"}}},
{"data":{"name":"trend"},"transform":[{"filter":"datum.k=='b'"}],"mark":{"type":"line","stroke":"#2f3f9e","strokeWidth":1.6,"strokeDash":[4,3]},"encoding":{"x":{"field":"v","type":"quantitative"},"y":{"field":"t","type":"quantitative"},"order":{"field":"t"}}},
{"data":{"name":"well"},"transform":[{"fold":["l","h"],"as":["k","v"]}],"mark":{"type":"line","stroke":"#111","strokeWidth":1.7,"strokeDash":[4,2.5],"clip":true},"encoding":{"x":{"field":"v","type":"quantitative"},"y":{"field":"t","type":"quantitative"},"detail":{"field":"k"},"order":{"field":"t"}}},
{"data":{"name":"well"},"mark":{"type":"line","stroke":"#2fb04a","strokeWidth":2.4},"encoding":{"x":{"field":"g","type":"quantitative"},"y":{"field":"t","type":"quantitative"},"order":{"field":"t"}}},
{"data":{"name":"well"},"mark":{"type":"line","stroke":"#e4332b","strokeWidth":1.8},"encoding":{"x":{"field":"r","type":"quantitative"},"y":{"field":"t","type":"quantitative"},"order":{"field":"t"}}},
{"data":{"name":"capA"},"mark":{"type":"text"},"encoding":{"x":{"field":"x","type":"quantitative"},"y":{"field":"t","type":"quantitative"},"text":{"field":"s"}}}
]},
{"width":48,"height":1,"view":{"stroke":null},"data":{"name":"gap"},"mark":{"type":"point","opacity":0},"encoding":{"x":{"field":"t","type":"quantitative","axis":null},"y":{"field":"t","type":"quantitative","axis":null}}},
{"width":87,"height":227,"view":{"fill":"#575052"},"layer":[
{"data":{"name":"bands"},"transform":[{"filter":"datum.a==26"}],"mark":{"type":"rect","fill":"#f7e92c","clip":true,"opacity":1},"encoding":{"y":{"field":"t0","type":"quantitative","scale":{"domain":[1663,1780],"reverse":true,"nice":false,"zero":false},"axis":{"values":[1680,1700,1720,1740,1760,1780],"title":null,"format":"d"}},"y2":{"field":"t1"}}},
{"data":{"name":"err"},"mark":{"type":"rect","height":4,"clip":true,"opacity":1},"encoding":{"y":{"field":"t","type":"quantitative"},"x":{"field":"a","type":"quantitative","scale":{"domain":[1,51],"nice":false,"zero":false},"axis":{"orient":"top","values":[1,25,50],"title":"模拟/次","titlePadding":2,"labelPadding":2}},"x2":{"field":"b"},"color":{"field":"e","type":"quantitative","scale":{"domain":[-1,1],"range":["#575052","#f7e92c"]},"legend":null}}},
{"data":{"name":"capB"},"mark":{"type":"text"},"encoding":{"x":{"field":"a","type":"quantitative"},"y":{"field":"t","type":"quantitative"},"text":{"field":"s"}}}
]},
{"width":48,"height":1,"view":{"stroke":null},"data":{"name":"gap"},"mark":{"type":"point","opacity":0},"encoding":{"x":{"field":"t","type":"quantitative","axis":null},"y":{"field":"t","type":"quantitative","axis":null}}},
{"width":87,"height":227,"view":{"fill":"#575052"},"layer":[
{"data":{"name":"bands"},"mark":{"type":"rect","fill":"#f7e92c","clip":true,"opacity":1},"encoding":{"y":{"field":"t0","type":"quantitative","scale":{"domain":[1663,1780],"reverse":true,"nice":false,"zero":false},"axis":{"values":[1680,1700,1720,1740,1760,1780],"title":null,"format":"d"}},"y2":{"field":"t1"},"x":{"field":"a","type":"quantitative","scale":{"domain":[1,51],"nice":false,"zero":false},"axis":{"orient":"top","values":[13,38],"labels":false,"title":"最大后验概率解","titleFontSize":11.5,"titlePadding":16}},"x2":{"field":"b"}}},
{"data":{"name":"capC"},"mark":{"type":"text"},"encoding":{"x":{"field":"a","type":"quantitative"},"y":{"field":"t","type":"quantitative"},"text":{"field":"s"}}}
]},
{"width":51,"height":1,"view":{"stroke":null},"data":{"name":"gap"},"mark":{"type":"point","opacity":0},"encoding":{"x":{"field":"t","type":"quantitative","axis":null},"y":{"field":"t","type":"quantitative","axis":null}}},
{"width":89,"height":231,"view":{"fill":"#d92a2a"},"layer":[
{"data":{"name":"prob"},"transform":[{"flatten":["p"]},{"window":[{"op":"row_number","as":"c"}],"groupby":["t"]}],"mark":{"type":"rect","width":1.9,"height":4,"clip":true,"opacity":1},"encoding":{"y":{"field":"t","type":"quantitative","scale":{"domain":[1663,1780],"reverse":true,"nice":false,"zero":false},"axis":{"values":[1680,1700,1720,1740,1760,1780],"title":null,"format":"d"}},"x":{"field":"c","type":"quantitative","scale":{"domain":[0.5,50.5],"nice":false,"zero":false},"axis":{"orient":"top","values":[1,25,50],"title":"模拟/次","titlePadding":2,"labelPadding":2}},"color":{"field":"p","type":"quantitative","scale":{"domain":[0,1,2,3,4,5.5,6.5,7,8.5,10],"range":["#000000","#120000","#4a0a0c","#a3161b","#dc2426","#e33026","#f28c1e","#f9e22b","#fbf060","#ffffff"]},"legend":null}}},
{"data":{"name":"capD"},"mark":{"type":"text"},"encoding":{"x":{"field":"c","type":"quantitative"},"y":{"field":"t","type":"quantitative"},"text":{"field":"s"}}}
]},
{"width":11,"height":1,"view":{"stroke":null},"data":{"name":"gap"},"mark":{"type":"point","opacity":0},"encoding":{"x":{"field":"t","type":"quantitative","axis":null},"y":{"field":"t","type":"quantitative","axis":null}}},
{"width":8,"height":220,"view":{"stroke":null},"layer":[
{"data":{"name":"barD"},"mark":{"type":"rect","opacity":1},"encoding":{"y":{"field":"v","type":"quantitative","scale":{"domain":[0,11.957],"nice":false,"zero":false},"axis":{"orient":"right","values":[1,3,5,7,9],"title":null,"tickSize":0,"labelPadding":3,"labelFontSize":12,"format":".0f","labelExpr":"format(datum.value/10,'.1f')"}},"y2":{"field":"w"},"color":{"field":"v","type":"quantitative","scale":{"domain":[0,1,2,3,4,5.5,6.5,7,8.5,10],"range":["#000000","#120000","#4a0a0c","#a3161b","#dc2426","#e33026","#f28c1e","#f9e22b","#fbf060","#ffffff"]},"legend":null}}},
{"data":{"name":"frameD"},"mark":{"type":"rect","fill":null,"stroke":"#888","strokeWidth":1},"encoding":{"y":{"field":"v","type":"quantitative"},"y2":{"field":"w"}}},
{"data":{"name":"titleD"},"mark":{"type":"text","font":"Noto Sans CJK SC","fontSize":11},"encoding":{"x":{"field":"x","type":"quantitative","scale":{"domain":[0,1],"nice":false,"zero":false},"axis":null},"y":{"field":"v","type":"quantitative"},"text":{"field":"s"}}}
]},
{"width":76,"height":1,"view":{"stroke":null},"data":{"name":"gap"},"mark":{"type":"point","opacity":0},"encoding":{"x":{"field":"t","type":"quantitative","axis":null},"y":{"field":"t","type":"quantitative","axis":null}}},
{"width":90,"height":229,"view":{"fill":"#78bd4e"},"layer":[
{"data":{"name":"err"},"mark":{"type":"rect","height":4,"clip":true,"opacity":1},"encoding":{"y":{"field":"t","type":"quantitative","scale":{"domain":[1664,1780],"reverse":true,"nice":false,"zero":false},"axis":{"values":[1680,1700,1720,1740,1760,1780],"title":null,"format":"d"}},"x":{"field":"a","type":"quantitative","scale":{"domain":[1,51],"nice":false,"zero":false},"axis":{"orient":"top","values":[1,25,50],"title":"模拟/次","titlePadding":2,"labelPadding":2}},"x2":{"field":"b"},"color":{"field":"e","type":"quantitative","scale":{"domain":[-1,-0.75,-0.5,-0.3,0,0.3,0.5,0.72,1],"range":["#2b3180","#2a46a8","#1aa0dc","#3cb98a","#78bd4e","#f5e62a","#f58a20","#e5262a","#5b1a1d"]},"legend":null}}},
{"data":{"name":"capE"},"mark":{"type":"text"},"encoding":{"x":{"field":"a","type":"quantitative"},"y":{"field":"t","type":"quantitative"},"text":{"field":"s"}}}
]},
{"width":9,"height":1,"view":{"stroke":null},"data":{"name":"gap"},"mark":{"type":"point","opacity":0},"encoding":{"x":{"field":"t","type":"quantitative","axis":null},"y":{"field":"t","type":"quantitative","axis":null}}},
{"width":8,"height":219,"view":{"stroke":null},"layer":[
{"data":{"name":"barE"},"mark":{"type":"rect","opacity":1},"encoding":{"y":{"field":"v","type":"quantitative","scale":{"domain":[-1,1.407],"nice":false,"zero":false},"axis":{"orient":"right","values":[-1,0,1],"title":null,"tickSize":0,"labelPadding":5,"labelFontSize":12,"labelExpr":"datum.value==0?'0':(datum.value>0?'1.0':'−1.0')"}},"y2":{"field":"w"},"color":{"field":"v","type":"quantitative","scale":{"domain":[-1,-0.75,-0.5,-0.3,0,0.3,0.5,0.72,1],"range":["#2b3180","#2a46a8","#1aa0dc","#3cb98a","#78bd4e","#f5e62a","#f58a20","#e5262a","#5b1a1d"]},"legend":null}}},
{"data":{"name":"frameE"},"mark":{"type":"rect","fill":null,"stroke":"#888","strokeWidth":1},"encoding":{"y":{"field":"v","type":"quantitative"},"y2":{"field":"w"}}},
{"data":{"name":"titleE"},"mark":{"type":"text","font":"Noto Sans CJK SC","fontSize":11},"encoding":{"x":{"field":"x","type":"quantitative","scale":{"domain":[0,1],"nice":false,"zero":false},"axis":null},"y":{"field":"v","type":"quantitative"},"text":{"field":"s"}}}
]}
],"spacing":0,"bounds":"flush"}
